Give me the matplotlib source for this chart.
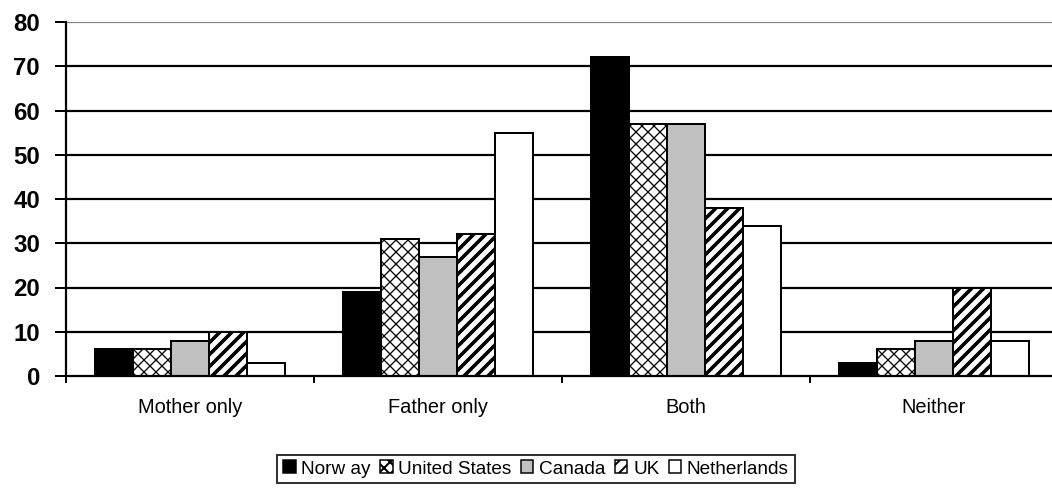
import matplotlib
matplotlib.use("Agg")
import matplotlib.pyplot as plt
import numpy as np

categories = ["Mother only", "Father only", "Both", "Neither"]
series = ["Norw ay", "United States", "Canada", "UK", "Netherlands"]
norway = [6, 19, 72, 3]
united_states = [6, 31, 57, 6]
canada = [8, 27, 57, 8]
uk = [10, 32, 38, 20]
netherlands = [3, 55, 34, 8]
values = [norway, united_states, canada, uk, netherlands]
yticks = [0, 10, 20, 30, 40, 50, 60, 70, 80]

DPI = 144
def pt(px):
    return px * 72.0 / DPI

plt.rcParams['font.family'] = ['Liberation Sans', 'DejaVu Sans']
plt.rcParams['hatch.color'] = 'black'

fig = plt.figure(figsize=(1052 / DPI, 493 / DPI), dpi=DPI)
ax = fig.add_axes([66 / 1052, 1 - 376 / 493, (1058 - 66) / 1052, (376 - 22) / 493])

styles = [
    dict(facecolor='black', hatch=None, hlw=1.0),
    dict(facecolor='white', hatch='xxxx', hlw=pt(1.3)),
    dict(facecolor='#c0c0c0', hatch=None, hlw=1.0),
    dict(facecolor='white', hatch='////', hlw=pt(3.6)),
    dict(facecolor='white', hatch=None, hlw=1.0),
]

x = np.arange(len(categories))
width = 0.154
n = len(series)
for i, (name, vals, st) in enumerate(zip(series, values, styles)):
    offs = (i - (n - 1) / 2) * width
    bars = ax.bar(x + offs, vals, width, color=st['facecolor'], edgecolor='black',
                  linewidth=pt(2), hatch=st['hatch'], label=name, zorder=3)
    if st['hatch']:
        for b in bars:
            try:
                b.set_hatch_linewidth(st['hlw'])
            except Exception:
                pass

# gridlines
for t in yticks[1:]:
    ax.axhline(t, color='#808080' if t == yticks[-1] else 'black', lw=pt(2.2), zorder=1)

ax.set_ylim(0, 80)
ax.set_xlim(-0.5, len(categories) - 0.5)
ax.set_yticks(yticks)
ax.set_yticklabels([str(t) for t in yticks], fontsize=pt(24), fontweight='bold')
ax.tick_params(axis='y', direction='out', length=pt(11), width=pt(2), pad=pt(15))

ax.set_xticks(x)
ax.set_xticklabels(categories, fontsize=pt(20))
ax.set_xticks(np.arange(-0.5, len(categories), 1.0), minor=True)
ax.tick_params(axis='x', which='major', length=0, pad=pt(22))
ax.tick_params(axis='x', which='minor', direction='out', length=pt(7), width=pt(2))

for s in ['top', 'right']:
    ax.spines[s].set_visible(False)
for s in ['left', 'bottom']:
    ax.spines[s].set_linewidth(pt(2.2))
    ax.spines[s].set_color('black')
    ax.spines[s].set_zorder(4)

leg = fig.legend(loc='center', bbox_to_anchor=(536 / 1052, 1 - 469 / 493), ncol=5,
                 fontsize=pt(19), frameon=True, fancybox=False, edgecolor='black',
                 handlelength=0.65, handleheight=0.65, handletextpad=0.3,
                 columnspacing=0.5, borderpad=0.3, borderaxespad=0)
leg.get_frame().set_linewidth(pt(2))
for h in leg.legend_handles:
    h.set_linewidth(pt(1.5))

fig.savefig("out.png", dpi=DPI)
